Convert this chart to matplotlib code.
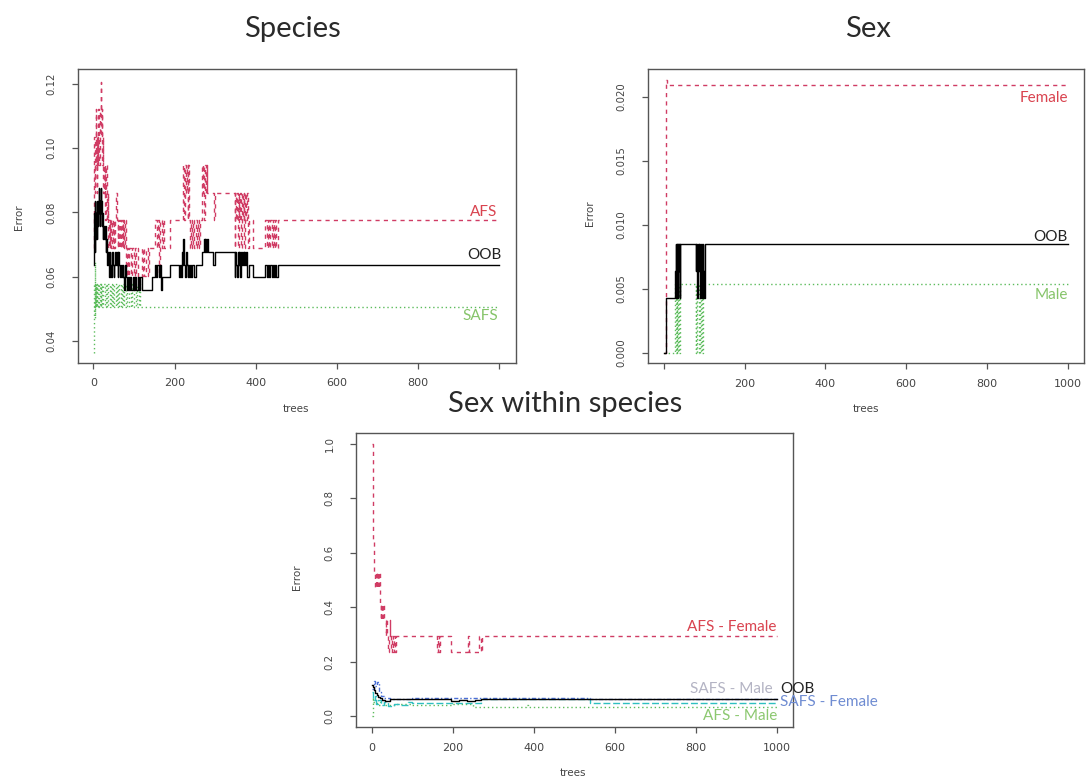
import matplotlib
matplotlib.use("Agg")
import matplotlib.pyplot as plt

# ---- Species: error vs number of trees (step breakpoints) ----
sp_afs_t = [1, 2, 3, 4, 5, 6, 7, 8, 9, 10, 11, 12, 13, 14, 15, 16, 17, 18, 19, 20,
            21, 22, 23, 24, 25, 26, 27, 28, 29, 30, 31, 32, 33, 34, 35, 36, 37, 38, 40, 42,
            44, 46, 48, 50, 52, 54, 56, 58, 60, 62, 64, 66, 68, 70, 72, 74, 76, 78, 80, 83,
            86, 89, 93, 96, 99, 102, 106, 110, 119, 122, 126, 130, 134, 137, 153, 156, 159, 162, 165, 168,
            171, 174, 190, 220, 222, 224, 226, 228, 230, 232, 234, 236, 238, 240, 243, 246, 249, 252, 255, 258,
            261, 264, 267, 269, 271, 273, 275, 277, 279, 281, 297, 299, 348, 350, 352, 354, 356, 358, 360, 362,
            364, 366, 368, 370, 372, 374, 376, 378, 381, 383, 394, 424, 427, 430, 433, 436, 439, 442, 445, 448,
            451, 454, 1000]
sp_afs_v = [0.0690, 0.1034, 0.0862, 0.1034, 0.0948, 0.1121, 0.0948, 0.1034, 0.0862, 0.1034,
            0.0948, 0.1121, 0.1034, 0.1121, 0.0948, 0.1034, 0.1121, 0.1207, 0.1121, 0.1034,
            0.1121, 0.0948, 0.1034, 0.0948, 0.0862, 0.0948, 0.0862, 0.0948, 0.0776, 0.0862,
            0.0776, 0.0948, 0.0862, 0.0776, 0.0862, 0.0776, 0.0690, 0.0776, 0.0690, 0.0776,
            0.0690, 0.0776, 0.0690, 0.0776, 0.0690, 0.0776, 0.0862, 0.0776, 0.0690, 0.0776,
            0.0690, 0.0776, 0.0690, 0.0776, 0.0690, 0.0776, 0.0690, 0.0776, 0.0603, 0.0690,
            0.0603, 0.0690, 0.0603, 0.0690, 0.0603, 0.0690, 0.0603, 0.0690, 0.0603, 0.0690,
            0.0603, 0.0690, 0.0603, 0.0690, 0.0776, 0.0690, 0.0776, 0.0603, 0.0776, 0.0690,
            0.0776, 0.0690, 0.0776, 0.0862, 0.0948, 0.0776, 0.0948, 0.0862, 0.0948, 0.0776,
            0.0948, 0.0776, 0.0690, 0.0776, 0.0690, 0.0776, 0.0690, 0.0776, 0.0690, 0.0776,
            0.0690, 0.0776, 0.0948, 0.0862, 0.0948, 0.0776, 0.0948, 0.0862, 0.0948, 0.0862,
            0.0776, 0.0862, 0.0690, 0.0862, 0.0776, 0.0862, 0.0690, 0.0862, 0.0776, 0.0862,
            0.0690, 0.0862, 0.0776, 0.0862, 0.0690, 0.0862, 0.0776, 0.0862, 0.0690, 0.0776,
            0.0690, 0.0776, 0.0690, 0.0776, 0.0690, 0.0776, 0.0690, 0.0776, 0.0690, 0.0776,
            0.0690, 0.0776, 0.0776]

sp_oob_t = [1, 2, 3, 4, 5, 6, 7, 8, 9, 10, 11, 12, 13, 14, 15, 16, 17, 18, 19, 20,
            21, 22, 23, 24, 25, 26, 28, 30, 32, 34, 36, 38, 40, 42, 44, 46, 48, 50, 52, 54,
            56, 58, 60, 62, 64, 66, 68, 70, 72, 74, 76, 78, 80, 82, 85, 88, 91, 94, 97, 100,
            103, 106, 110, 113, 116, 120, 144, 152, 155, 158, 161, 164, 167, 170, 188, 212, 214, 216, 218, 220,
            222, 224, 226, 228, 230, 232, 234, 236, 238, 240, 244, 248, 252, 268, 272, 274, 276, 278, 280, 282,
            296, 299, 348, 350, 352, 354, 356, 358, 360, 362, 364, 366, 368, 370, 372, 374, 376, 379, 383, 394,
            424, 427, 430, 433, 436, 439, 442, 445, 448, 451, 454, 1000]
sp_oob_v = [0.0637, 0.0797, 0.0677, 0.0837, 0.0717, 0.0797, 0.0757, 0.0837, 0.0717, 0.0797,
            0.0757, 0.0837, 0.0797, 0.0876, 0.0837, 0.0757, 0.0837, 0.0876, 0.0797, 0.0837,
            0.0757, 0.0797, 0.0717, 0.0797, 0.0757, 0.0717, 0.0757, 0.0677, 0.0717, 0.0637,
            0.0677, 0.0598, 0.0677, 0.0637, 0.0598, 0.0677, 0.0637, 0.0598, 0.0637, 0.0677,
            0.0637, 0.0677, 0.0598, 0.0677, 0.0637, 0.0598, 0.0637, 0.0598, 0.0637, 0.0598,
            0.0558, 0.0637, 0.0598, 0.0558, 0.0598, 0.0558, 0.0598, 0.0558, 0.0598, 0.0558,
            0.0598, 0.0558, 0.0598, 0.0558, 0.0598, 0.0558, 0.0598, 0.0637, 0.0598, 0.0637,
            0.0598, 0.0637, 0.0558, 0.0598, 0.0637, 0.0598, 0.0637, 0.0598, 0.0677, 0.0637,
            0.0717, 0.0637, 0.0598, 0.0677, 0.0637, 0.0598, 0.0637, 0.0598, 0.0637, 0.0598,
            0.0637, 0.0598, 0.0637, 0.0677, 0.0717, 0.0677, 0.0717, 0.0677, 0.0717, 0.0677,
            0.0637, 0.0677, 0.0598, 0.0677, 0.0637, 0.0598, 0.0677, 0.0637, 0.0677, 0.0598,
            0.0677, 0.0637, 0.0677, 0.0637, 0.0677, 0.0637, 0.0677, 0.0598, 0.0637, 0.0598,
            0.0637, 0.0598, 0.0637, 0.0598, 0.0637, 0.0598, 0.0637, 0.0598, 0.0637, 0.0598,
            0.0637, 0.0637]

sp_safs_t = [1, 2, 3, 4, 5, 6, 7, 8, 10, 12, 14, 16, 18, 20, 22, 25, 28, 31, 34, 37,
             40, 43, 46, 49, 52, 55, 58, 61, 64, 67, 70, 73, 76, 80, 84, 88, 92, 96, 100, 104,
             108, 112, 116, 1000]
sp_safs_v = [0.0362, 0.0576, 0.0470, 0.0647, 0.0504, 0.0576, 0.0504, 0.0576, 0.0504, 0.0576,
             0.0504, 0.0576, 0.0504, 0.0576, 0.0504, 0.0576, 0.0504, 0.0576, 0.0504, 0.0576,
             0.0504, 0.0576, 0.0504, 0.0576, 0.0504, 0.0576, 0.0504, 0.0576, 0.0504, 0.0576,
             0.0504, 0.0576, 0.0504, 0.0576, 0.0504, 0.0576, 0.0504, 0.0576, 0.0504, 0.0576,
             0.0504, 0.0576, 0.0504, 0.0504]

# ---- Sex ----
sx_female_t = [1, 6, 7, 1000]
sx_female_v = [0.0, 0.0213, 0.0209, 0.0209]

sx_oob_t = [1, 6, 29, 30, 31, 32, 33, 34, 35, 36, 37, 38, 39, 41, 79, 80, 82, 84, 86, 88,
            90, 92, 94, 96, 97, 99, 101, 1000]
sx_oob_v = [0.0, 0.0043, 0.0064, 0.0085, 0.0043, 0.0085, 0.0064, 0.0085, 0.0043, 0.0085,
            0.0064, 0.0085, 0.0043, 0.0085, 0.0064, 0.0085, 0.0043, 0.0085, 0.0064, 0.0085,
            0.0043, 0.0085, 0.0043, 0.0085, 0.0064, 0.0043, 0.0085, 0.0085]

sx_male_t = [1, 29, 30, 32, 34, 36, 38, 40, 79, 81, 83, 86, 89, 92, 95, 98, 1000]
sx_male_v = [0.0, 0.0054, 0.0, 0.0054, 0.0, 0.0054, 0.0, 0.0054, 0.0, 0.0054,
             0.0, 0.0054, 0.0, 0.0054, 0.0, 0.0054, 0.0054]

# ---- Sex within species ----
sws_oob_t = [1, 3, 6, 9, 12, 16, 20, 26, 33, 45, 70, 100, 150, 195, 215, 235, 255, 270, 540, 1000]
sws_oob_v = [0.114, 0.105, 0.095, 0.085, 0.077, 0.070, 0.065, 0.060, 0.057, 0.061,
             0.063, 0.061, 0.062, 0.057, 0.059, 0.056, 0.060, 0.063, 0.061, 0.061]

sws_afs_f_t = [1, 2, 3, 4, 5, 6, 8, 10, 12, 14, 16, 18, 20, 22, 24, 26, 28, 30, 32, 34,
               36, 38, 40, 42, 44, 46, 48, 50, 52, 55, 58, 60, 160, 163, 166, 169, 173, 196, 201, 238,
               241, 266, 269, 272, 1000]
sws_afs_f_v = [1.0, 0.824, 0.765, 0.647, 0.588, 0.529, 0.471, 0.529, 0.471, 0.529,
               0.471, 0.529, 0.412, 0.353, 0.412, 0.353, 0.412, 0.353, 0.353, 0.294,
               0.353, 0.294, 0.235, 0.294, 0.353, 0.294, 0.235, 0.294, 0.235, 0.294,
               0.235, 0.294, 0.235, 0.294, 0.235, 0.294, 0.294, 0.235, 0.235, 0.294,
               0.235, 0.294, 0.235, 0.294, 0.294]

sws_afs_m_t = [1, 2, 4, 8, 12, 20, 30, 60, 100, 200, 250, 380, 385, 1000]
sws_afs_m_v = [0.0, 0.070, 0.050, 0.060, 0.040, 0.050, 0.040, 0.045, 0.040, 0.045,
               0.034, 0.040, 0.034, 0.034]

sws_safs_f_t = [1, 5, 9, 14, 17, 22, 30, 45, 100, 270, 540, 1000]
sws_safs_f_v = [0.100, 0.130, 0.110, 0.126, 0.090, 0.075, 0.068, 0.063, 0.065, 0.066,
                0.063, 0.063]

sws_safs_m_t = [1, 4, 7, 11, 16, 22, 30, 40, 55, 70, 90, 100, 270, 540, 1000]
sws_safs_m_v = [0.090, 0.060, 0.075, 0.045, 0.060, 0.040, 0.050, 0.038, 0.045, 0.040,
                0.050, 0.047, 0.064, 0.047, 0.047]

tree_ticks = [0, 200, 400, 600, 800, 1000]

RED = "#d03c64"
GREEN = "#5cbc5c"
W, H = 1087, 780

fig = plt.figure(figsize=(W / 100, H / 100), dpi=100)


def px_axes(left, top, right, bottom):
    return fig.add_axes([left / W, 1 - bottom / H, (right - left) / W, (bottom - top) / H])


def style(ax, ylim, yticks, ylabels, xlabels):
    ax.set_xlim(-39, 1040)
    ax.set_ylim(*ylim)
    ax.set_xticks(tree_ticks)
    ax.set_xticklabels(xlabels, fontsize=8, family="DejaVu Sans", color="#444")
    ax.set_yticks(yticks)
    ax.set_yticklabels(ylabels, fontsize=7.3, family="DejaVu Sans", color="#444",
                       rotation=90, va="center")
    ax.tick_params(axis="x", length=4.3, width=0.9, color="#555", pad=7)
    ax.tick_params(axis="y", length=4.3, width=0.9, color="#555", pad=11)
    for s in ax.spines.values():
        s.set_color("#555")
        s.set_linewidth(1.0)


def ftext(x, y, s, **kw):
    fig.text(x / W, 1 - y / H, s, **kw)


lab = dict(family="Lato", fontsize=11)
axlab = dict(family="DejaVu Sans", fontsize=7.5, color="#444")

# Species
ax1 = px_axes(77.5, 69.3, 515.5, 362.7)
ax1.step(sp_safs_t, sp_safs_v, where="post", color=GREEN, lw=1.0, dashes=(1, 2))
ax1.step(sp_afs_t, sp_afs_v, where="post", color=RED, lw=1.0, dashes=(3, 3))
ax1.step(sp_oob_t, sp_oob_v, where="post", color="black", lw=1.0)
style(ax1, (0.0332, 0.1246), [0.04, 0.06, 0.08, 0.10, 0.12],
      ["0.04", "0.06", "0.08", "0.10", "0.12"], ["0", "200", "400", "600", "800", ""])
ftext(497.6, 212, "AFS", color="#d9434f", ha="right", va="center", **lab)
ftext(501, 255, "OOB", color="#222", ha="right", va="center", **lab)
ftext(498, 316, "SAFS", color="#86c46a", ha="right", va="center", **lab)
ftext(19, 217, "Error", rotation=90, ha="center", va="center", **axlab)
ftext(296, 409, "trees", ha="center", va="center", **axlab)

# Sex
ax2 = px_axes(648, 69, 1084, 363)
ax2.step(sx_male_t, sx_male_v, where="post", color=GREEN, lw=1.0, dashes=(1, 2))
ax2.step(sx_female_t, sx_female_v, where="post", color=RED, lw=1.0, dashes=(3, 3))
ax2.step(sx_oob_t, sx_oob_v, where="post", color="black", lw=1.0)
style(ax2, (-0.00078, 0.02216), [0, 0.005, 0.010, 0.015, 0.020],
      ["0.000", "0.005", "0.010", "0.015", "0.020"], ["", "200", "400", "600", "800", "1000"])
ftext(1068, 98, "Female", color="#d9434f", ha="right", va="center", **lab)
ftext(1068, 237, "OOB", color="#222", ha="right", va="center", **lab)
ftext(1068, 295, "Male", color="#86c46a", ha="right", va="center", **lab)
ftext(590, 213, "Error", rotation=90, ha="center", va="center", **axlab)
ftext(866, 409, "trees", ha="center", va="center", **axlab)

# Sex within species
ax3 = px_axes(356, 432.7, 792.7, 727.3)
ax3.step(sws_afs_f_t, sws_afs_f_v, where="post", color=RED, lw=1.0, dashes=(3, 3))
ax3.step(sws_afs_m_t, sws_afs_m_v, where="post", color=GREEN, lw=1.0, dashes=(1, 2))
ax3.step(sws_safs_m_t, sws_safs_m_v, where="post", color="#2fbfc0", lw=1.0, dashes=(5, 2))
ax3.step(sws_safs_f_t, sws_safs_f_v, where="post", color="#4a6fd6", lw=1.0, dashes=(3, 1.5, 1, 1.5))
ax3.step(sws_oob_t, sws_oob_v, where="post", color="black", lw=1.0)
style(ax3, (-0.0415, 1.0415), [0, 0.2, 0.4, 0.6, 0.8, 1.0],
      ["0.0", "0.2", "0.4", "0.6", "0.8", "1.0"], [str(t) for t in tree_ticks])
ftext(776, 627, "AFS - Female", color="#d9434f", ha="right", va="center", **lab)
ftext(772.7, 689, "SAFS - Male", color="#b4b4c4", ha="right", va="center", **lab)
ftext(780, 689, "OOB", color="#222", ha="left", va="center", **lab)
ftext(780, 702, "SAFS - Female", color="#6f8cd2", ha="left", va="center", **lab)
ftext(777, 716, "AFS - Male", color="#8cc870", ha="right", va="center", **lab)
ftext(297, 577, "Error", rotation=90, ha="center", va="center", **axlab)
ftext(573, 773, "trees", ha="center", va="center", **axlab)

# panel titles
ttl = dict(family="Lato", fontsize=21, fontweight="normal", color="#2a2a2a", va="baseline")
ftext(292, 37.3, "Species", ha="center", **ttl)
ftext(868, 37.3, "Sex", ha="center", **ttl)
ftext(448, 411.7, "Sex within species", ha="left", **ttl)

fig.savefig("out.png", dpi=100)
